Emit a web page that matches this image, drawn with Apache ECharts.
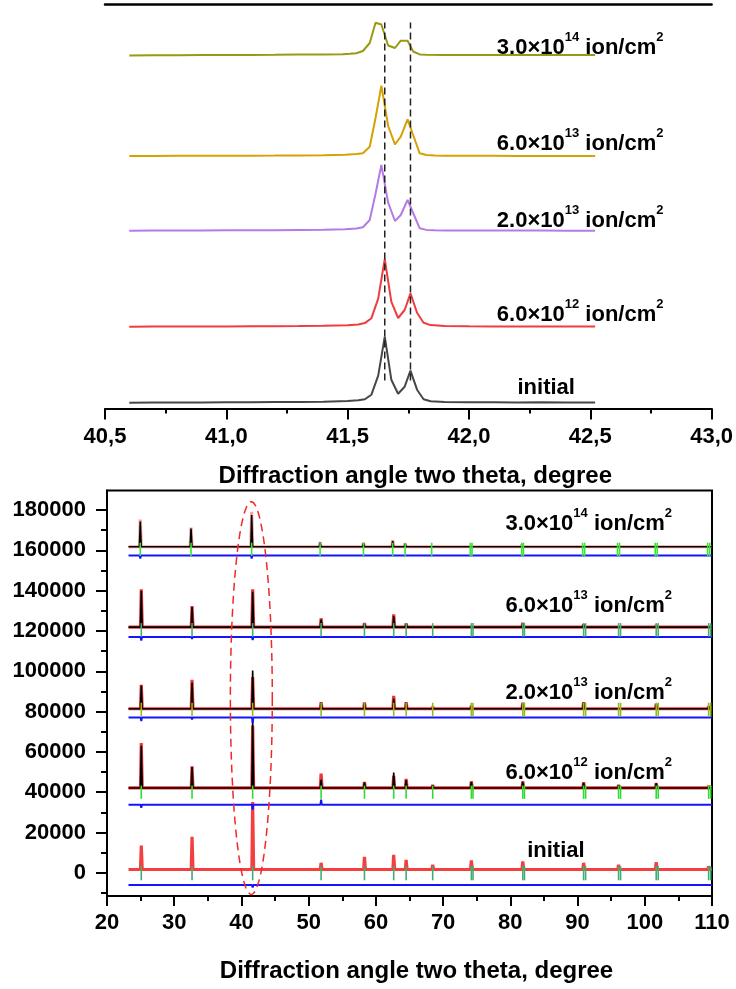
<!DOCTYPE html>
<html>
<head>
<meta charset="utf-8">
<script src="https://cdn.jsdelivr.net/npm/echarts@6/dist/echarts.min.js"></script>
<style>
html, body { margin: 0; padding: 0; background: #fff; }
#chart { width: 736px; height: 989px; }
</style>
</head>
<body>
<div id="chart"></div>
<script>
// ===== Upper panel: the Kα1/Kα2 doublet near 41.7°, curves stacked by fluence =====
const doseLabels = ['initial', '6.0×10^12', '2.0×10^13', '6.0×10^13', '3.0×10^14'];

// vertical offsets of the stacked curves (arbitrary units)
const zoomOffsets = [5.8, 81.8, 177.8, 252.5, 353.5];
const zoomColors = ['#474747', '#f03c3c', '#b47be6', '#d6a106', '#9a9a12'];

const zoomAngleA = [40.60, 40.70, 40.80, 40.90, 41.00, 41.10, 41.20, 41.30, 41.40,
  41.50, 41.544, 41.571, 41.598, 41.626, 41.653, 41.680, 41.708, 41.735, 41.759, 41.786, 41.813, 41.842,
  41.90, 42.00, 42.10, 42.20, 42.30, 42.40, 42.52];
const zoomAngleB = [40.60, 40.70, 40.80, 40.90, 41.00, 41.10, 41.20, 41.30, 41.40,
  41.49, 41.536, 41.563, 41.591, 41.615, 41.639, 41.667, 41.695, 41.719, 41.747, 41.770, 41.797, 41.825, 41.86,
  41.90, 42.00, 42.10, 42.20, 42.30, 42.40, 42.52];
const zoomAngleC = [40.60, 40.70, 40.80, 40.90, 41.00, 41.10, 41.20, 41.30, 41.40,
  41.48, 41.509, 41.536, 41.563, 41.591, 41.615, 41.639, 41.667, 41.695, 41.719, 41.747, 41.770, 41.797, 41.825,
  41.90, 42.00, 42.10, 42.20, 42.30, 42.40, 42.52];

const zoomInitial = [0, 0.2, 0.3, 0.3, 0.5, 0.4, 0.6, 0.8, 1.0,
  1.6, 2.4, 3.4, 8, 27, 66, 23, 9, 16, 32, 13, 3.5, 1.5,
  0.8, 0.5, 0.4, 0.3, 0.5, 0.2, 0.2];
const zoom6e12 = [0, 0.1, 0.2, 0.2, 0.3, 0.4, 0.5, 0.6, 0.9,
  1.5, 2.3, 3.6, 8.5, 28, 67.5, 25, 8.7, 16.7, 33.4, 14, 4, 1.6,
  0.8, 0.5, 0.3, 0.2, 0.3, 0.2, 0.2];
const zoom2e13 = [0, 0.2, 0.3, 0.2, 0.4, 0.4, 0.5, 0.7, 0.9,
  1.4, 2.2, 3.4, 10.7, 37, 65.7, 28, 9.7, 15.7, 30.7, 17.7, 2.4, 0.8, 0.5,
  0.3, 0.2, 0.2, 0.1, 0.1, 0, 0];
const zoom6e13 = [0, 0.1, 0.2, 0.2, 0.3, 0.3, 0.4, 0.6, 0.8,
  1.2, 2.0, 2.7, 9.3, 38, 70.3, 30, 11.7, 19.3, 36.7, 21, 2.7, 1.0, 0.5,
  0.3, 0.2, 0.2, 0.1, 0.1, 0, 0];
const zoom3e14 = [-0.5, -0.3, -0.2, 0, 0, 0.1, 0.2, 0.4, 0.6,
  0.8, 1.2, 1.8, 4, 12, 32.3, 30.5, 9.5, 7, 14.3, 14.3, 3.5, 0.6, 0.2,
  0, 0, 0.1, 0, 0.1, 0, 0];

const zoomCurves = [
  [zoomAngleA, zoomInitial],
  [zoomAngleA, zoom6e12],
  [zoomAngleB, zoom2e13],
  [zoomAngleB, zoom6e13],
  [zoomAngleC, zoom3e14]
];

// reference positions of the Kα1 and Kα2 components of the initial sample
const doubletLines = [41.653, 41.759];
const doubletSpan = [28, 386];

const zoomLabelX = [42.2, 42.115, 42.115, 42.115, 42.115];
const zoomLabelY = [23.5, 97, 191, 268, 364];

// ===== Lower panel: full patterns with fit, difference and Bragg positions =====
const peakPos = [25.1, 32.65, 41.67, 51.85, 58.3, 62.65, 64.5, 68.45, 74.2, 81.85, 90.9, 96.1, 101.7, 109.5];

const baseLevel = [1650, 42100, 81400, 121900, 161800];
const diffLevel = [-6100, 33800, 77100, 117000, 157500];
const peakShift = [0, 0, 0, 0, -0.15];

// observed peak heights above the background
const obsInitial = [11900, 16200, 33500, 3300, 6300, 7300, 4800, 2300, 4500, 4000, 3300, 2300, 3600, 1600];
const obs6e12 = [22300, 10700, 31000, 7100, 3000, 6000, 4500, 1500, 3300, 3300, 2800, 1500, 2500, 1000];
const obs2e13 = [11900, 14400, 15700, 3300, 3100, 6400, 3300, 1000, 1500, 3000, 3300, 800, 2500, 1200];
const obs6e13 = [18800, 10500, 18800, 4400, 2000, 6400, 1900, 800, 800, 2200, 1500, 500, 1000, 600];
const obs3e14 = [13500, 9500, 17300, 2300, 2000, 3300, 1700, 600, 600, 1000, 800, 500, 500, 400];

// calculated peak heights
const calc6e12 = [21000, 10400, 33900, 4100, 2800, 7700, 3900, 1300, 3000, 3000, 2500, 1300, 2300, 900];
const calc2e13 = [11500, 13000, 19000, 3000, 2800, 5000, 3000, 900, 1300, 2700, 3000, 700, 2200, 1000];
const calc6e13 = [18000, 10000, 17600, 3800, 1800, 5500, 1700, 700, 700, 1800, 1300, 400, 800, 500];
const calc3e14 = [12500, 9000, 15700, 2000, 1800, 2800, 1500, 500, 500, 800, 600, 400, 400, 300];

// difference curve deviations at the peaks
const diffInitial = [-800, -500, -1200, 0, 500, 800, 0, 0, 300, 0, 500, 0, 0, 0];
const diff6e12 = [-1500, -800, -2500, 2500, 0, -800, 0, 0, 0, 500, 0, 400, 400, 0];
const diff2e13 = [-1800, -1000, -2800, 0, 0, 0, 0, 0, 0, 0, 0, 0, 0, 0];
const diff6e13 = [-1800, -1000, -1500, 0, 0, 0, 0, 0, 0, 0, 0, 0, 0, 0];
const diff3e14 = [-1500, -800, -1500, 0, 0, 0, 0, 0, 0, 0, 0, 0, 0, 0];

const obsSets = [obsInitial, obs6e12, obs2e13, obs6e13, obs3e14];
const calcSets = [null, calc6e12, calc2e13, calc6e13, calc3e14];
const diffSets = [diffInitial, diff6e12, diff2e13, diff6e13, diff3e14];

// Bragg reflection positions (Kα1 / Kα2 pairs resolved at high angles)
const braggPos = [25.1, 32.65, 41.67, 51.85, 58.3, 62.65, 64.5, 68.45, 74.2, 74.45,
  81.85, 82.1, 90.9, 91.2, 96.1, 96.4, 101.7, 102.0, 109.5, 109.8];
const braggTop = [3300, 43300, 84400, 123900, 163800];
const braggBottom = [-3700, 36700, 77600, 117200, 157200];
const braggColors = ['#3fae72', '#2fdc2f', '#94bb1c', '#46b06e', '#34e834'];

const obsColors = ['#f42a2a', '#ee2020', '#ee2020', '#ee2020', '#f07a7a'];
const patternStart = 23.2;
const patternEnd = 110;

const labelX = [82.5, 79.27, 79.27, 79.27, 79.27];
const labelY = [12500, 51200, 90800, 133900, 174500];

// region of interest marked around the 41.7° reflection: centre x, centre y, half-width, half-height
const roi = [41.47, 86700, 3.12, 97400];

const yLabelValues = [0, 20000, 40000, 60000, 80000, 100000, 120000, 140000, 160000, 180000];
const yMinorValues = [-10000, 10000, 30000, 50000, 70000, 90000, 110000, 130000, 150000, 170000];

// ---------- helpers ----------
const FONT = "'Liberation Sans', Arial, sans-serif";

function doseRich(label) {
  if (label === 'initial') return '{n|initial}';
  const parts = label.split('^');
  return '{n|' + parts[0] + '}{s|' + parts[1] + '}{n| ion/cm}{s|2}';
}
const richStyles = {
  n: { fontFamily: FONT, fontWeight: 'bold', fontSize: 22, color: '#000', lineHeight: 28, verticalAlign: 'bottom' },
  s: { fontFamily: FONT, fontWeight: 'bold', fontSize: 13, color: '#000', lineHeight: 12, verticalAlign: 'top' }
};
const doseLabelStyle = {
  show: true, position: 'right', distance: 0, color: '#000', opacity: 1,
  textBorderWidth: 0, fontFamily: FONT, fontWeight: 'bold', fontSize: 22,
  formatter: p => doseRich(p.name), rich: richStyles
};

function profile(base, heights, shift) {
  const pts = [[patternStart, base]];
  peakPos.forEach((p, i) => {
    const c = p + shift;
    pts.push([c - 0.12, base], [c, base + heights[i]], [c + 0.14, base]);
  });
  pts.push([patternEnd, base]);
  return pts;
}

function diffCurve(level, dev, shift) {
  const pts = [[patternStart, level]];
  peakPos.forEach((p, i) => {
    const c = p + shift;
    pts.push([c - 0.1, level], [c, level + dev[i]], [c + 0.1, level]);
  });
  pts.push([patternEnd, level]);
  return pts;
}

const series = [];

// upper panel curves
zoomCurves.forEach((cv, k) => {
  series.push({
    type: 'line', xAxisIndex: 0, yAxisIndex: 0, silent: true, showSymbol: false,
    data: cv[0].map((x, i) => [x, zoomOffsets[k] + cv[1][i]]),
    lineStyle: { color: zoomColors[k], width: 2 },
    z: 3
  });
});
doubletLines.forEach(x => {
  series.push({
    type: 'line', xAxisIndex: 0, yAxisIndex: 0, silent: true, showSymbol: false,
    data: [[x, doubletSpan[0]], [x, doubletSpan[1]]],
    lineStyle: { color: '#222', width: 1.5, type: [7, 4] },
    z: 4
  });
});
series.push({
  type: 'scatter', xAxisIndex: 0, yAxisIndex: 0, silent: true, symbolSize: 0,
  itemStyle: { color: '#000' },
  data: doseLabels.map((d, k) => ({ value: [zoomLabelX[k], zoomLabelY[k]], name: d })),
  label: doseLabelStyle,
  z: 5
});

// lower panel: patterns drawn from bottom to top
doseLabels.forEach((d, k) => {
  const shift = peakShift[k];
  series.push({
    type: 'line', xAxisIndex: 2, yAxisIndex: 1, silent: true, showSymbol: false,
    data: profile(baseLevel[k], obsSets[k], shift),
    lineStyle: { color: obsColors[k], width: 3.2, opacity: k === 4 ? 0.7 : 0.9 },
    z: 2
  });
  if (calcSets[k]) {
    series.push({
      type: 'line', xAxisIndex: 2, yAxisIndex: 1, silent: true, showSymbol: false,
      data: profile(baseLevel[k], calcSets[k], shift),
      lineStyle: { color: '#000', width: 1.6 },
      z: 3
    });
  }
  series.push({
    type: 'custom', xAxisIndex: 2, yAxisIndex: 1, silent: true,
    data: braggPos.map(x => [x + shift, braggTop[k], braggBottom[k]]),
    renderItem: (params, api) => {
      const a = api.coord([api.value(0), api.value(1)]);
      const b = api.coord([api.value(0), api.value(2)]);
      return {
        type: 'line',
        shape: { x1: a[0], y1: a[1], x2: b[0], y2: b[1] },
        style: { stroke: braggColors[k], lineWidth: 1.6 }
      };
    },
    z: 4
  });
  series.push({
    type: 'line', xAxisIndex: 2, yAxisIndex: 1, silent: true, showSymbol: false,
    data: diffCurve(diffLevel[k], diffSets[k], shift),
    lineStyle: { color: '#1414ff', width: 2 },
    z: 3
  });
});

series.push({
  type: 'scatter', xAxisIndex: 2, yAxisIndex: 1, silent: true, symbolSize: 0,
  itemStyle: { color: '#000' },
  data: doseLabels.map((d, k) => ({ value: [labelX[k], labelY[k]], name: d })),
  label: doseLabelStyle,
  z: 6
});

series.push({
  type: 'custom', xAxisIndex: 2, yAxisIndex: 1, silent: true,
  data: [roi],
  renderItem: (params, api) => {
    const c = api.coord([api.value(0), api.value(1)]);
    const rx = api.size([api.value(2), 0])[0];
    const ry = api.size([0, api.value(3)])[1];
    const pts = [];
    for (let i = 0; i <= 120; i++) {
      const t = (i / 120) * Math.PI * 2;
      pts.push([c[0] + rx * Math.cos(t), c[1] + ry * Math.sin(t)]);
    }
    return {
      type: 'polyline',
      shape: { points: pts },
      style: { stroke: '#f02828', fill: null, lineWidth: 1.5, lineDash: [8, 5] }
    };
  },
  z: 7
});

const tickFont = { fontFamily: FONT, fontWeight: 'bold', fontSize: 22, color: '#000' };
const titleFont = { fontFamily: FONT, fontWeight: 'bold', fontSize: 24, color: '#000', padding: [0, 0, 0, 14] };

const option = {
  animation: false,
  backgroundColor: '#fff',
  grid: [
    { left: 105, right: 24, top: 4, bottom: 580.5 },
    { left: 107, right: 24, top: 490.5, bottom: 93, show: true, borderColor: '#000', borderWidth: 2, backgroundColor: 'transparent' }
  ],
  xAxis: [
    {
      type: 'value', gridIndex: 0, min: 40.5, max: 43.0, interval: 0.5,
      axisLine: { show: true, onZero: false, lineStyle: { color: '#000', width: 2 } },
      axisTick: { show: true, inside: false, length: 11, lineStyle: { width: 2, color: '#000' } },
      minorTick: { show: true, splitNumber: 2, length: 5, lineStyle: { width: 2, color: '#000' } },
      axisLabel: { ...tickFont, margin: 17, formatter: v => v.toFixed(1).replace('.', ',') },
      splitLine: { show: false },
      name: 'Diffraction angle two theta, degree', nameLocation: 'middle', nameGap: 56,
      nameTextStyle: titleFont
    },
    {
      type: 'value', gridIndex: 0, min: 40.5, max: 43.0, position: 'top',
      axisLine: { show: true, onZero: false, lineStyle: { color: '#000', width: 2.5 } },
      axisTick: { show: false }, axisLabel: { show: false }, splitLine: { show: false }
    },
    {
      type: 'value', gridIndex: 1, min: 20, max: 110, interval: 10,
      axisLine: { show: true, onZero: false, lineStyle: { color: '#000', width: 2 } },
      axisTick: { show: true, inside: false, length: 10, lineStyle: { width: 2, color: '#000' } },
      minorTick: { show: true, splitNumber: 2, length: 5, lineStyle: { width: 2, color: '#000' } },
      axisLabel: { ...tickFont, margin: 16 },
      splitLine: { show: false },
      name: 'Diffraction angle two theta, degree', nameLocation: 'middle', nameGap: 63,
      nameTextStyle: titleFont
    }
  ],
  yAxis: [
    {
      type: 'value', gridIndex: 0, min: 0, max: 404.5, show: false
    },
    {
      type: 'value', gridIndex: 1, min: -11500, max: 189700, position: 'left',
      axisLine: { show: true, onZero: false, lineStyle: { color: '#000', width: 2 } },
      axisTick: { show: true, inside: false, length: 11, customValues: yLabelValues, lineStyle: { width: 2, color: '#000' } },
      axisLabel: { ...tickFont, margin: 21, customValues: yLabelValues, formatter: v => String(Math.round(v)) },
      splitLine: { show: false }
    },
    {
      type: 'value', gridIndex: 1, min: -11500, max: 189700, position: 'left', offset: 0,
      axisLine: { show: false },
      axisTick: { show: true, inside: false, length: 6, customValues: yMinorValues, lineStyle: { width: 2, color: '#000' } },
      axisLabel: { show: false },
      splitLine: { show: false }
    }
  ],
  series: series
};

const chart = echarts.init(document.getElementById('chart'), null, { renderer: 'canvas' });
chart.setOption(option);
</script>
</body>
</html>
